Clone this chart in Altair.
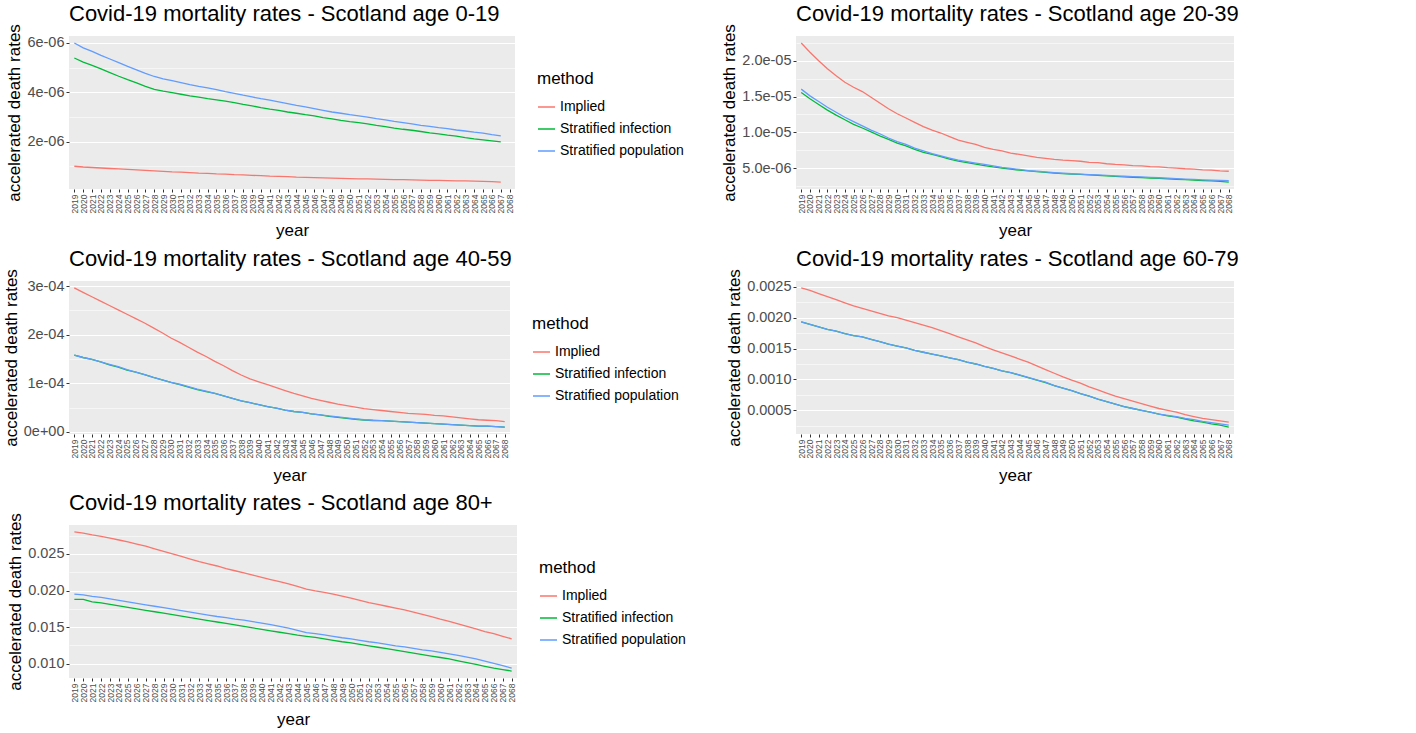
import altair as alt
import pandas as pd

YEARS = list(range(2019, 2069))
METHODS = ["Implied", "Stratified infection", "Stratified population"]
COLORS = ["#F8766D", "#00BA38", "#619CFF"]

# ---- age 0-19 (units of 1e-6), 2019-2067
implied_1 = [1.00, 0.97, 0.95, 0.93, 0.91, 0.89, 0.87, 0.85, 0.83, 0.81,
             0.79, 0.77, 0.76, 0.74, 0.72, 0.71, 0.69, 0.68, 0.66, 0.65,
             0.63, 0.62, 0.60, 0.59, 0.58, 0.56, 0.55, 0.54, 0.53, 0.52,
             0.51, 0.50, 0.49, 0.49, 0.48, 0.47, 0.46, 0.46, 0.45, 0.44,
             0.43, 0.43, 0.42, 0.41, 0.41, 0.40, 0.39, 0.38, 0.36]
infection_1 = [5.39, 5.22, 5.09, 4.95, 4.80, 4.65, 4.51, 4.38, 4.24, 4.12,
               4.05, 3.99, 3.92, 3.85, 3.80, 3.74, 3.69, 3.64, 3.58, 3.51,
               3.45, 3.38, 3.32, 3.27, 3.20, 3.15, 3.09, 3.04, 2.97, 2.92,
               2.86, 2.81, 2.77, 2.72, 2.66, 2.61, 2.55, 2.50, 2.46, 2.41,
               2.35, 2.31, 2.26, 2.22, 2.16, 2.11, 2.07, 2.03, 1.99]
population_1 = [6.00, 5.80, 5.66, 5.50, 5.35, 5.20, 5.05, 4.91, 4.77, 4.64,
                4.54, 4.47, 4.39, 4.31, 4.24, 4.18, 4.11, 4.03, 3.96, 3.88,
                3.81, 3.74, 3.68, 3.61, 3.54, 3.47, 3.41, 3.34, 3.27, 3.20,
                3.15, 3.09, 3.04, 2.99, 2.93, 2.88, 2.82, 2.77, 2.72, 2.66,
                2.62, 2.57, 2.53, 2.47, 2.43, 2.38, 2.34, 2.28, 2.23]

# ---- age 20-39 (units of 1e-6), 2019-2068
implied_2 = [22.5, 21.2, 20.0, 18.9, 17.9, 17.0, 16.3, 15.7, 14.9, 14.1,
             13.3, 12.6, 12.0, 11.4, 10.8, 10.3, 9.9, 9.4, 8.9, 8.6,
             8.3, 7.9, 7.6, 7.4, 7.1, 6.9, 6.7, 6.5, 6.35, 6.2,
             6.1, 6.05, 5.95, 5.8, 5.75, 5.6, 5.5, 5.45, 5.35, 5.3,
             5.2, 5.15, 5.05, 5.0, 4.9, 4.85, 4.75, 4.7, 4.6, 4.55]
infection_2 = [15.57, 14.7, 13.9, 13.1, 12.4, 11.75, 11.1, 10.6, 10.05, 9.5,
               9.0, 8.5, 8.1, 7.6, 7.2, 6.9, 6.6, 6.25, 5.97, 5.75,
               5.55, 5.35, 5.15, 5.0, 4.85, 4.7, 4.6, 4.5, 4.4, 4.3,
               4.22, 4.16, 4.1, 4.04, 3.97, 3.9, 3.83, 3.76, 3.71, 3.66,
               3.6, 3.55, 3.49, 3.43, 3.37, 3.31, 3.25, 3.19, 3.12, 3.04]
population_2 = [16.04, 15.1, 14.3, 13.5, 12.8, 12.1, 11.5, 10.9, 10.3, 9.8,
                9.2, 8.7, 8.3, 7.8, 7.4, 7.0, 6.7, 6.4, 6.1, 5.9,
                5.7, 5.5, 5.3, 5.1, 4.95, 4.8, 4.65, 4.55, 4.45, 4.35,
                4.27, 4.2, 4.14, 4.08, 4.03, 3.97, 3.91, 3.85, 3.8, 3.75,
                3.69, 3.64, 3.58, 3.52, 3.46, 3.4, 3.35, 3.31, 3.26, 3.22]

# ---- age 40-59 (units of 1e-4), 2019-2068
implied_3 = [2.96, 2.87, 2.78, 2.69, 2.60, 2.51, 2.42, 2.33, 2.24, 2.14,
             2.04, 1.93, 1.84, 1.74, 1.64, 1.55, 1.45, 1.36, 1.26, 1.17,
             1.09, 1.03, 0.97, 0.91, 0.85, 0.79, 0.74, 0.69, 0.65, 0.61,
             0.57, 0.54, 0.51, 0.48, 0.46, 0.44, 0.42, 0.40, 0.38, 0.37,
             0.36, 0.34, 0.33, 0.31, 0.29, 0.27, 0.25, 0.24, 0.23, 0.21]
infection_3 = [1.58, 1.53, 1.49, 1.44, 1.38, 1.33, 1.27, 1.23, 1.18, 1.12,
               1.07, 1.02, 0.97, 0.92, 0.87, 0.83, 0.79, 0.74, 0.69, 0.64,
               0.60, 0.56, 0.52, 0.49, 0.45, 0.42, 0.40, 0.37, 0.35, 0.32,
               0.30, 0.28, 0.26, 0.245, 0.235, 0.23, 0.22, 0.21, 0.20, 0.19,
               0.18, 0.17, 0.16, 0.15, 0.14, 0.13, 0.12, 0.12, 0.11, 0.10]
population_3 = [1.58, 1.53, 1.49, 1.44, 1.39, 1.34, 1.28, 1.23, 1.18, 1.12,
                1.07, 1.02, 0.98, 0.93, 0.88, 0.84, 0.79, 0.74, 0.69, 0.64,
                0.60, 0.56, 0.52, 0.49, 0.45, 0.42, 0.40, 0.37, 0.35, 0.33,
                0.31, 0.29, 0.27, 0.25, 0.24, 0.23, 0.22, 0.21, 0.20, 0.19,
                0.18, 0.17, 0.16, 0.15, 0.14, 0.13, 0.12, 0.12, 0.11, 0.10]

# ---- age 60-79 (units of 1e-3), 2019-2068
implied_4 = [2.48, 2.44, 2.39, 2.34, 2.29, 2.24, 2.19, 2.15, 2.11, 2.07,
             2.03, 2.00, 1.96, 1.92, 1.88, 1.84, 1.79, 1.74, 1.69, 1.64,
             1.59, 1.53, 1.48, 1.43, 1.38, 1.33, 1.28, 1.22, 1.16, 1.10,
             1.04, 0.99, 0.94, 0.88, 0.83, 0.78, 0.73, 0.69, 0.65, 0.61,
             0.57, 0.53, 0.50, 0.47, 0.43, 0.40, 0.37, 0.35, 0.33, 0.31]
infection_4 = [1.93, 1.89, 1.85, 1.81, 1.78, 1.74, 1.71, 1.69, 1.65, 1.61,
               1.57, 1.54, 1.51, 1.47, 1.44, 1.41, 1.38, 1.35, 1.32, 1.28,
               1.25, 1.21, 1.18, 1.14, 1.11, 1.07, 1.03, 0.99, 0.95, 0.90,
               0.86, 0.82, 0.77, 0.73, 0.68, 0.64, 0.60, 0.56, 0.53, 0.50,
               0.47, 0.44, 0.41, 0.39, 0.36, 0.33, 0.31, 0.28, 0.26, 0.23]
population_4 = [1.93, 1.89, 1.85, 1.81, 1.78, 1.74, 1.71, 1.69, 1.65, 1.61,
                1.57, 1.54, 1.51, 1.47, 1.44, 1.41, 1.38, 1.35, 1.32, 1.28,
                1.25, 1.21, 1.18, 1.14, 1.11, 1.075, 1.035, 0.995, 0.955, 0.90,
                0.86, 0.82, 0.77, 0.73, 0.68, 0.64, 0.60, 0.56, 0.53, 0.50,
                0.47, 0.44, 0.42, 0.40, 0.37, 0.35, 0.32, 0.30, 0.28, 0.26]

# ---- age 80+ (units of 1e-3), 2019-2068
implied_5 = [28.0, 27.85, 27.6, 27.4, 27.15, 26.9, 26.65, 26.35, 26.05, 25.7,
             25.35, 25.0, 24.65, 24.3, 23.95, 23.65, 23.35, 23.0, 22.7, 22.4,
             22.1, 21.8, 21.5, 21.2, 20.9, 20.55, 20.2, 19.95, 19.75, 19.5,
             19.25, 18.95, 18.65, 18.35, 18.1, 17.85, 17.6, 17.35, 17.05, 16.75,
             16.45, 16.1, 15.8, 15.45, 15.1, 14.75, 14.4, 14.1, 13.75, 13.4]
infection_5 = [18.8, 18.8, 18.45, 18.3, 18.1, 17.9, 17.7, 17.5, 17.3, 17.1,
               16.9, 16.7, 16.5, 16.3, 16.1, 15.9, 15.7, 15.5, 15.3, 15.1,
               14.9, 14.7, 14.5, 14.3, 14.1, 13.9, 13.75, 13.6, 13.4, 13.2,
               13.0, 12.85, 12.65, 12.45, 12.25, 12.05, 11.85, 11.65, 11.45, 11.25,
               11.05, 10.85, 10.65, 10.4, 10.15, 9.9, 9.65, 9.4, 9.2, 9.0]
population_5 = [19.5, 19.4, 19.2, 19.05, 18.85, 18.65, 18.45, 18.25, 18.05, 17.85,
                17.65, 17.45, 17.25, 17.05, 16.85, 16.65, 16.45, 16.3, 16.1, 15.95,
                15.75, 15.55, 15.35, 15.1, 14.85, 14.55, 14.25, 14.1, 13.95, 13.75,
                13.55, 13.4, 13.2, 13.0, 12.85, 12.65, 12.45, 12.3, 12.1, 11.9,
                11.75, 11.55, 11.35, 11.15, 10.9, 10.65, 10.35, 10.05, 9.75, 9.4]

# axis tick values / labels per panel
major_1 = [2e-06, 4e-06, 6e-06]; labels_1 = ["2e-06", "4e-06", "6e-06"]; minor_1 = [1e-06, 3e-06, 5e-06]
major_2 = [5e-06, 1e-05, 1.5e-05, 2e-05]; labels_2 = ["5.0e-06", "1.0e-05", "1.5e-05", "2.0e-05"]
minor_2 = [2.5e-06, 7.5e-06, 1.25e-05, 1.75e-05, 2.25e-05]
major_3 = [0.0, 1e-04, 2e-04, 3e-04]; labels_3 = ["0e+00", "1e-04", "2e-04", "3e-04"]
minor_3 = [5e-05, 1.5e-04, 2.5e-04]
major_4 = [0.0005, 0.001, 0.0015, 0.002, 0.0025]; labels_4 = ["0.0005", "0.0010", "0.0015", "0.0020", "0.0025"]
minor_4 = [0.00025, 0.00075, 0.00125, 0.00175, 0.00225]
major_5 = [0.01, 0.015, 0.02, 0.025]; labels_5 = ["0.010", "0.015", "0.020", "0.025"]
minor_5 = [0.0125, 0.0175, 0.0225, 0.0275]

FONT = "Liberation Sans"


def label_expr(vals, labels, tol):
    expr = "''"
    for v, l in zip(vals, labels):
        expr = f"abs(datum.value - ({v!r})) < {tol!r} ? '{l}' : ({expr})"
    return expr


def panel(title, series, unit, major, labels, minor, width, height=153):
    rows = []
    for m, vals in zip(METHODS, series):
        for yr, v in zip(YEARS, vals):
            rows.append({"year": yr, "value": v * unit, "method": m})
    df = pd.DataFrame(rows)
    allv = [r["value"] for r in rows]
    lo, hi = min(allv), max(allv)
    pad = (hi - lo) * 0.05
    step = major[1] - major[0]
    ticks = sorted(major + minor)
    minor_test = " || ".join(f"abs(datum.value - ({v!r})) < {step*0.01!r}" for v in minor)
    yaxis = alt.Axis(
        values=ticks,
        labelExpr=label_expr(major, labels, step * 0.01),
        title="accelerated death rates",
        gridWidth={"condition": {"test": minor_test, "value": 0.55}, "value": 1.1},
        tickOpacity={"condition": {"test": minor_test, "value": 0}, "value": 1},
        labelFontSize=14.5, titleFontSize=17, labelPadding=2, titlePadding=3,
    )
    xaxis = alt.Axis(
        title="year", labelAngle=270, labelFontSize=8.5, labelOverlap=False,
        titleFontSize=17, labelPadding=2, titlePadding=10, labelBaseline="middle",
        labelAlign="right",
    )
    chart = alt.Chart(df, title=alt.TitleParams(title, anchor="start", frame="group",
                                                 fontSize=22, fontWeight="normal",
                                                 font=FONT, color="black", offset=-2)).mark_line(
        strokeWidth=1.3
    ).encode(
        x=alt.X("year:O", axis=xaxis,
                scale=alt.Scale(type="point", domain=YEARS, padding=0.6)),
        y=alt.Y("value:Q", axis=yaxis,
                scale=alt.Scale(domain=[lo - pad, hi + pad], zero=False, nice=False)),
        color=alt.Color("method:N",
                        scale=alt.Scale(domain=METHODS, range=COLORS),
                        legend=alt.Legend(title="method", orient="none",
                                          legendX=width + 22, legendY=height / 2 - 42,
                                          titleFontSize=17, titleFontWeight="normal",
                                          titleColor="black", labelFontSize=14,
                                          labelColor="black", symbolType="stroke",
                                          symbolStrokeWidth=1.5, symbolSize=290,
                                          rowPadding=5, titlePadding=10)),
        order=alt.Order("year:O"),
    ).properties(width=width, height=height)
    return chart


p1 = panel("Covid-19 mortality rates - Scotland age 0-19",
           [implied_1, infection_1, population_1], 1e-6, major_1, labels_1, minor_1, 446)
p2 = panel("Covid-19 mortality rates - Scotland age 20-39",
           [implied_2, infection_2, population_2], 1e-6, major_2, labels_2, minor_2, 438)
p3 = panel("Covid-19 mortality rates - Scotland age 40-59",
           [implied_3, infection_3, population_3], 1e-4, major_3, labels_3, minor_3, 441)
p4 = panel("Covid-19 mortality rates - Scotland age 60-79",
           [implied_4, infection_4, population_4], 1e-3, major_4, labels_4, minor_4, 438)
p5 = panel("Covid-19 mortality rates - Scotland age 80+",
           [implied_5, infection_5, population_5], 1e-3, major_5, labels_5, minor_5, 448)

top_rows = alt.vconcat(
    alt.hconcat(p1, p2, spacing=205),
    alt.hconcat(p3, p4, spacing=213),
    spacing=8,
).resolve_legend(color="independent").resolve_scale(color="independent")

chart = alt.vconcat(
    top_rows,
    alt.hconcat(p5),
    spacing=7,
).resolve_legend(color="independent").resolve_scale(color="independent").properties(
    padding={"left": 2, "top": 2, "right": 0, "bottom": 0}, background="white"
).configure_view(fill="#EBEBEB", stroke=None).configure_axis(
    gridColor="white", domain=False, tickColor="#333333", tickSize=3,
    labelColor="#4D4D4D", titleColor="black", labelFont=FONT, titleFont=FONT,
    titleFontWeight="normal"
).configure_legend(labelFont=FONT, titleFont=FONT)

chart.save("out.html", embed_options={"renderer": "svg", "actions": False})
